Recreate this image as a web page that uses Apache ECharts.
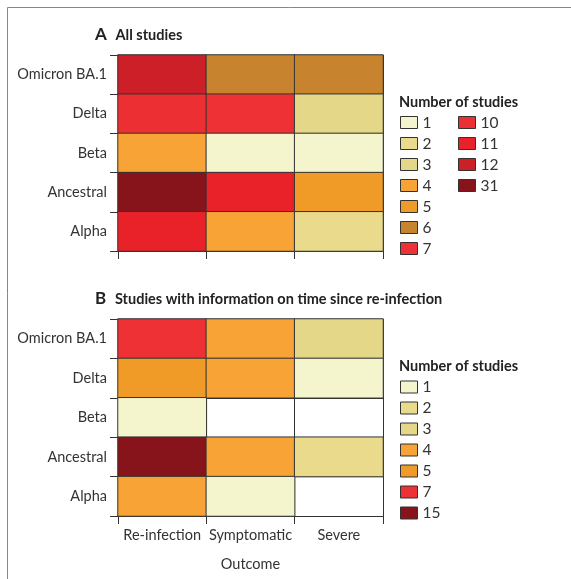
<!DOCTYPE html>
<html><head><meta charset="utf-8">
<script src="https://cdn.jsdelivr.net/npm/echarts@6/dist/echarts.min.js"></script>
<style>html,body{margin:0;padding:0;background:#fff}#c{width:571px;height:579px}</style>
</head><body><div id="c"></div>
<script>
// Data
const variants = ['Omicron BA.1', 'Delta', 'Beta', 'Ancestral', 'Alpha'];
const outcomes = ['Re-infection', 'Symptomatic', 'Severe'];
// Panel A: all studies (order follows variants)
const aReinfection = [12, 10, 4, 31, 11];
const aSymptomatic = [6, 7, 1, 11, 4];
const aSevere      = [6, 3, 1, 5, 2];
// Panel B: studies with information on time since re-infection
const bReinfection = [7, 5, 1, 15, 4];
const bSymptomatic = [4, 4, null, 4, 1];
const bSevere      = [3, 1, null, 2, null];
// Legend values
const legendA1 = ['1', '2', '3', '4', '5', '6', '7'];
const legendA2 = ['10', '11', '12', '31'];
const legendB  = ['1', '2', '3', '4', '5', '7', '15'];
// Colour per number of studies
const colorOf = {
  '1': '#f5f5cd', '2': '#e9da8c', '3': '#e5d788', '4': '#f7a336', '5': '#f09b27',
  '6': '#c8832e', '7': '#ee3134', '10': '#ec2f33', '11': '#e92229', '12': '#cc1f27',
  '15': '#87141a', '31': '#87141a'
};

const FONT = 'Lato';
const TXT = '#333';

function cells(cols) {
  const out = [];
  cols.forEach((col, j) => col.forEach((v, i) => {
    if (v !== null && v !== undefined) {
      out.push({ value: [j, i, v], itemStyle: { color: colorOf[String(v)] } });
    }
  }));
  return out;
}

const grids = [
  { left: 118, top: 55, width: 265, height: 196 },
  { left: 118, top: 319, width: 265, height: 197 }
];

function xAxis(gi, showLabels) {
  return {
    type: 'category', gridIndex: gi, data: outcomes,
    axisLine: { show: true, lineStyle: { color: '#333', width: 1 } },
    axisTick: { show: true, interval: 0, length: 8, lineStyle: { color: '#333' } },
    splitLine: { show: true, interval: 0, lineStyle: { color: '#333', width: 1 } },
    axisLabel: { show: showLabels, interval: 0, margin: 12, fontFamily: FONT, fontSize: 14.5, color: TXT },
    name: showLabels ? 'Outcome' : '', nameLocation: 'middle', nameGap: 41,
    nameTextStyle: { fontFamily: FONT, fontSize: 14.5, color: TXT }
  };
}
function yAxis(gi) {
  return {
    type: 'category', gridIndex: gi, data: variants, inverse: true,
    axisLine: { show: true, lineStyle: { color: '#333', width: 1 } },
    axisTick: { show: true, interval: 0, length: 8, lineStyle: { color: '#333' } },
    splitLine: { show: true, interval: 0, lineStyle: { color: '#333', width: 1 } },
    axisLabel: { interval: 0, margin: 11, fontFamily: FONT, fontSize: 14.5, color: TXT }
  };
}

const legendSeriesNames = Array.from(new Set([...legendA1, ...legendA2, ...legendB]));
const dummySeries = legendSeriesNames.map(n => ({
  name: n, type: 'bar', data: [], xAxisIndex: 0, yAxisIndex: 0,
  itemStyle: { color: colorOf[n] }
}));

function legend(data, left, top) {
  return {
    data: data, orient: 'vertical', left: left, top: top, padding: 0,
    icon: 'rect', itemWidth: 17, itemHeight: 12, itemGap: 5,
    itemStyle: { borderColor: '#333', borderWidth: 1 },
    textStyle: { fontFamily: FONT, fontSize: 15.5, color: TXT, lineHeight: 12, padding: [2, 0, 0, 0] },
    selectedMode: false
  };
}

const option = {
  animation: false,
  textStyle: { fontFamily: FONT },
  title: [
    { text: '{a|A}  {b|All studies}', left: 95, top: 26, padding: 0,
      textStyle: { rich: { a: { fontFamily: FONT, fontSize: 17, fontWeight: 'bold', color: '#222' },
                            b: { fontFamily: FONT, fontSize: 14.5, fontWeight: 'bold', color: '#222' } } } },
    { text: '{a|B}  {b|Studies with information on time since re-infection}', left: 95, top: 290, padding: 0,
      textStyle: { rich: { a: { fontFamily: FONT, fontSize: 17, fontWeight: 'bold', color: '#222' },
                            b: { fontFamily: FONT, fontSize: 14.5, fontWeight: 'bold', color: '#222' } } } },
    { text: 'Number of studies', left: 399, top: 95, padding: 0,
      textStyle: { fontFamily: FONT, fontSize: 14.5, fontWeight: 'bold', color: '#222' } },
    { text: 'Number of studies', left: 399, top: 359, padding: 0,
      textStyle: { fontFamily: FONT, fontSize: 14.5, fontWeight: 'bold', color: '#222' } }
  ],
  legend: [ legend(legendA1, 400, 114.5), legend(legendA2, 458, 114.5), legend(legendB, 400, 379) ],
  grid: grids,
  xAxis: [ xAxis(0, false), xAxis(1, true) ],
  yAxis: [ yAxis(0), yAxis(1) ],
  graphic: [
    { type: 'line', shape: { x1: 7.5, y1: 7.5, x2: 571, y2: 7.5 }, style: { stroke: '#d9607c', lineWidth: 1 } },
    { type: 'line', shape: { x1: 7.5, y1: 7.5, x2: 7.5, y2: 579 }, style: { stroke: '#d9607c', lineWidth: 1 } }
  ],
  series: [
    { type: 'heatmap', xAxisIndex: 0, yAxisIndex: 0,
      data: cells([aReinfection, aSymptomatic, aSevere]),
      itemStyle: { borderColor: '#333', borderWidth: 1 }, emphasis: { disabled: true } },
    { type: 'heatmap', xAxisIndex: 1, yAxisIndex: 1,
      data: cells([bReinfection, bSymptomatic, bSevere]),
      itemStyle: { borderColor: '#333', borderWidth: 1 }, emphasis: { disabled: true } },
    ...dummySeries
  ]
};

const chart = echarts.init(document.getElementById('c'), null, { renderer: 'canvas' });
chart.setOption(option);
</script></body></html>
